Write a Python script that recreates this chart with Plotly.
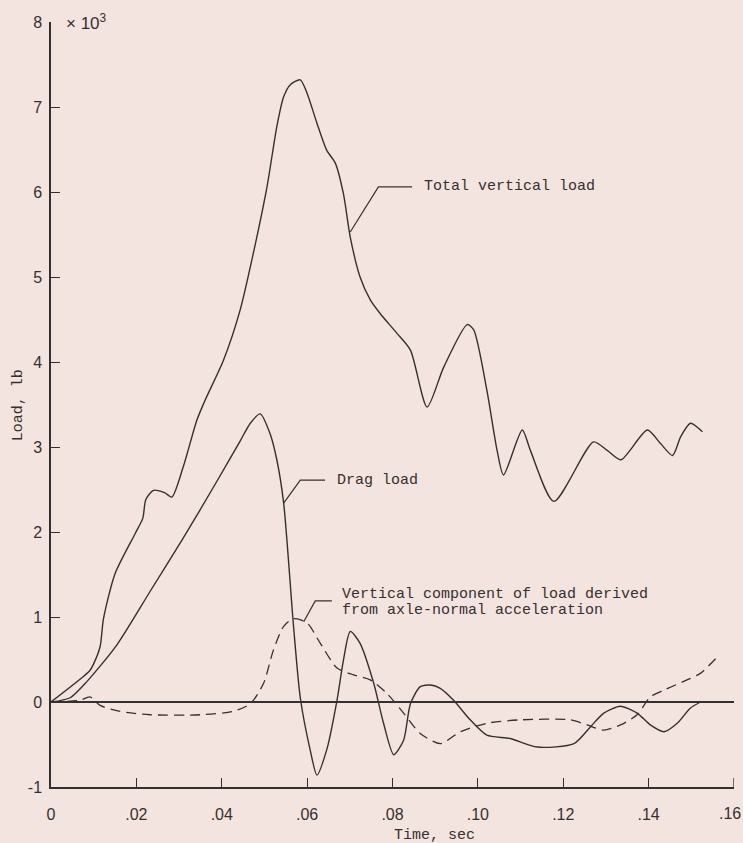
import plotly.graph_objects as go

# Landing-gear load time histories (loads in units of 10^3 lb)
total_t = [0, 0.0076, 0.0091, 0.0099, 0.0115, 0.0123, 0.015, 0.0197, 0.0215, 0.0222, 0.024, 0.0267, 0.0283,
           0.031, 0.0342, 0.0361, 0.0404, 0.0443, 0.0474, 0.0506, 0.0529, 0.0545, 0.056, 0.0584,
           0.06, 0.0623, 0.0646, 0.0666, 0.0685, 0.0701, 0.0724, 0.0748, 0.0771, 0.081, 0.0842,
           0.0881, 0.092, 0.0975, 0.099, 0.1021, 0.1045, 0.106, 0.1104, 0.1123, 0.1178, 0.1271,
           0.1303, 0.1335, 0.1397, 0.1428, 0.1456, 0.1475, 0.1498, 0.1526]
total_load = [0, 0.30, 0.37, 0.44, 0.65, 0.98, 1.51, 1.98, 2.16, 2.38, 2.49, 2.46, 2.41,
              2.77, 3.32, 3.55, 4.02, 4.61, 5.28, 6.06, 6.77, 7.12, 7.26, 7.32,
              7.16, 6.81, 6.49, 6.34, 5.98, 5.47, 5.0, 4.73, 4.57, 4.34, 4.14,
              3.47, 3.94, 4.44, 4.38, 3.67, 2.96, 2.67, 3.2, 2.96, 2.36, 3.06,
              2.96, 2.85, 3.2, 3.04, 2.9, 3.12, 3.28, 3.18]

drag_t = [0, 0.0045, 0.0084, 0.0154, 0.0232, 0.031, 0.0389, 0.0443, 0.0467, 0.049, 0.0513,
          0.0529, 0.0545, 0.0568, 0.0584, 0.0607, 0.0623, 0.0646, 0.067, 0.0685, 0.0701, 0.0724,
          0.0756, 0.0779, 0.0803, 0.0826, 0.0842, 0.0865, 0.0889, 0.0912, 0.0943, 0.0982, 0.1021,
          0.1076, 0.1139, 0.1225, 0.1264, 0.1295, 0.1334, 0.1373, 0.1404, 0.1436, 0.1467, 0.1498,
          0.1522]
drag_load = [0, 0.05, 0.24, 0.67, 1.3, 1.93, 2.6, 3.07, 3.28, 3.39, 3.16,
             2.85, 2.34, 0.9, 0.05, -0.56, -0.86, -0.56, 0.02, 0.49, 0.83, 0.69,
             0.22, -0.25, -0.62, -0.45, -0.02, 0.18, 0.2, 0.16, 0.02, -0.21, -0.39,
             -0.43, -0.53, -0.49, -0.29, -0.13, -0.05, -0.13, -0.27, -0.35, -0.25, -0.07,
             0.0]

accel_t = [0, 0.0068, 0.0091, 0.0115, 0.0162, 0.0232, 0.0349, 0.0427, 0.0467, 0.0498, 0.0521,
           0.0545, 0.0568, 0.06, 0.0631, 0.067, 0.0709, 0.0748, 0.0787, 0.0826, 0.0865, 0.0912,
           0.0959, 0.1021, 0.11, 0.1217, 0.1256, 0.1295, 0.1334, 0.1373, 0.1404, 0.1436, 0.149,
           0.1522, 0.1557]
accel_load = [0, 0.02, 0.06, -0.04, -0.11, -0.15, -0.15, -0.11, -0.02, 0.22, 0.61,
              0.89, 0.98, 0.93, 0.69, 0.40, 0.32, 0.26, 0.1, -0.13, -0.37, -0.49,
              -0.35, -0.25, -0.21, -0.21, -0.27, -0.33, -0.27, -0.15, 0.06, 0.14, 0.26,
              0.34, 0.51]

x_ticks = [0, 0.02, 0.04, 0.06, 0.08, 0.10, 0.12, 0.14, 0.16]
x_tick_text = ["0", ".02", ".04", ".06", ".08", ".10", ".12", ".14", ".16"]
y_ticks = [-1, 0, 1, 2, 3, 4, 5, 6, 7, 8]
y_tick_text = ["-1", "0", "1", "2", "3", "4", "5", "6", "7", "8"]

INK = "#353030"
PAPER = "#f4e4df"
MONO = "Courier New, Liberation Mono, monospace"
SANS = "Liberation Sans, Arial, sans-serif"
tick_font = dict(family=SANS, size=16, color=INK)

fig = go.Figure()
line_style = dict(color=INK, width=1.4, shape="spline", smoothing=0.7)
fig.add_trace(go.Scatter(x=total_t, y=total_load, mode="lines", line=line_style,
                         name="Total vertical load"))
fig.add_trace(go.Scatter(x=drag_t, y=drag_load, mode="lines", line=line_style,
                         name="Drag load"))
fig.add_trace(go.Scatter(x=accel_t, y=accel_load, mode="lines",
                         line=dict(color=INK, width=1.3, dash="10px,6px",
                                   shape="spline", smoothing=0.7),
                         name="Vertical component"))

# Leader lines from labels to curves
leaders = [
    [(0.0701, 5.53), (0.0767, 6.06), (0.0846, 6.06)],
    [(0.0545, 2.34), (0.0584, 2.61), (0.0642, 2.61)],
    [(0.0592, 0.945), (0.0619, 1.19), (0.0658, 1.19)],
]
for pts in leaders:
    path = "M " + " L ".join(f"{px},{py}" for px, py in pts)
    fig.add_shape(type="path", path=path, xref="x", yref="y",
                  line=dict(color=INK, width=1.2))

label_font = dict(family=MONO, size=15, color=INK)
fig.add_annotation(x=0.0868, y=6.06, text="Total vertical load", showarrow=False,
                   xanchor="left", yanchor="middle", font=label_font)
fig.add_annotation(x=0.0665, y=2.61, text="Drag load", showarrow=False,
                   xanchor="left", yanchor="middle", font=label_font)
fig.add_annotation(x=0.0678, y=1.26, text="Vertical component of load derived",
                   showarrow=False, xanchor="left", yanchor="middle", font=label_font)
fig.add_annotation(x=0.0678, y=1.075, text="from axle-normal acceleration",
                   showarrow=False, xanchor="left", yanchor="middle", font=label_font)

# Axis titles and multiplier
fig.add_annotation(xref="paper", yref="paper", x=(434 - 51) / 683, y=-0.064,
                   text="Time, sec", showarrow=False, xanchor="center", yanchor="middle",
                   font=label_font)
fig.add_annotation(xref="paper", yref="paper", x=-0.048, y=(787 - 405) / 765,
                   text="Load, lb", showarrow=False, textangle=-90,
                   xanchor="center", yanchor="middle", font=label_font)
fig.add_annotation(xref="paper", yref="paper", x=(64 - 51) / 683, y=1.0,
                   text="× 10<sup>3</sup>", showarrow=False, xanchor="left",
                   yanchor="middle", font=dict(family=SANS, size=17, color=INK))

# The last time label sits flush with the page edge, so it is set as an annotation
fig.add_annotation(xref="x", yref="paper", x=x_ticks[-1], y=-0.034,
                   text=x_tick_text[-1], showarrow=False, xanchor="right",
                   yanchor="middle", xshift=9, font=tick_font)

fig.update_xaxes(range=[0, 0.16], tickvals=x_ticks[:-1], ticktext=x_tick_text[:-1],
                 ticks="inside", ticklen=9, tickwidth=1.4, tickcolor=INK,
                 showline=True, linecolor=INK, linewidth=1.5, showgrid=False,
                 zeroline=False, ticklabelstandoff=12, ticklabeloverflow="allow",
                 automargin=False, tickfont=tick_font)
fig.update_yaxes(range=[-1, 8], tickvals=y_ticks, ticktext=y_tick_text,
                 ticks="inside", ticklen=9, tickwidth=1.4, tickcolor=INK,
                 showline=True, linecolor=INK, linewidth=1.5, showgrid=False,
                 zeroline=True, zerolinecolor=INK, zerolinewidth=1.6,
                 ticklabelstandoff=4, ticklabeloverflow="allow", automargin=False,
                 tickfont=tick_font)

# Tick mark at the right end of the time axis
fig.add_shape(type="line", xref="x", yref="paper", x0=x_ticks[-1], x1=x_ticks[-1],
              y0=0, y1=9 / 765, line=dict(color=INK, width=1.4))

fig.update_layout(width=743, height=843, showlegend=False,
                  margin=dict(l=51, r=9, t=22, b=56),
                  paper_bgcolor=PAPER, plot_bgcolor=PAPER)

fig.write_html("out.html")
